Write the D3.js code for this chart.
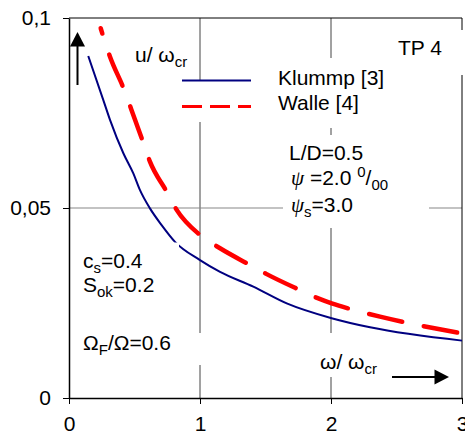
<!DOCTYPE html>
<html>
<head>
<meta charset="utf-8">
<script src="https://cdn.jsdelivr.net/npm/d3@7"></script>
<style>
  body { margin: 0; background: #fff; }
  svg { display: block; font-family: "Liberation Sans", Arial, sans-serif; }
  .lbl { font-size: 21px; fill: #000; }
</style>
</head>
<body>
<svg width="465" height="435"></svg>
<script>
// omega/omega_cr values and u/omega_cr
var klummpX = [0.147, 0.262, 0.313, 0.415, 0.491, 0.542, 0.618, 0.707, 0.809, 1.0, 1.153, 1.407, 1.662, 2.005, 2.298, 3.0];
var klummpY = [0.090, 0.0784, 0.0732, 0.0644, 0.0591, 0.0547, 0.0499, 0.0455, 0.0411, 0.0363, 0.0332, 0.0293, 0.0249, 0.0210, 0.0186, 0.0151];
var walleX = [0.242, 0.313, 0.42, 0.504, 0.565, 0.618, 0.746, 0.822, 1.0, 1.153, 1.382, 1.509, 1.763, 1.903, 2.005, 2.17, 2.374, 3.0];
var walleY = [0.0973, 0.0898, 0.0812, 0.0732, 0.0674, 0.0622, 0.0543, 0.0495, 0.0429, 0.0394, 0.0350, 0.0326, 0.0284, 0.0262, 0.0249, 0.0232, 0.0214, 0.0170];
var xTicks = [0, 1, 2, 3];
var yTicks = [0, 0.05, 0.1];
var yTickLabels = ["0", "0,05", "0,1"];
var seriesNames = ["Klummp [3]", "Walle [4]"];

var svg = d3.select("svg");
var x = d3.scaleLinear().domain([0, 3]).range([69, 462]);
var y = d3.scaleLinear().domain([0, 0.1]).range([398, 18]);

// grid
svg.append("g").selectAll("line").data([1, 2]).enter().append("line")
  .attr("x1", function(d) { return x(d); }).attr("x2", function(d) { return x(d); })
  .attr("y1", y(0.1)).attr("y2", y(0))
  .attr("stroke", "#444").attr("stroke-width", 1);
svg.append("line")
  .attr("x1", x(0)).attr("x2", x(3)).attr("y1", y(0.05)).attr("y2", y(0.05))
  .attr("stroke", "#888").attr("stroke-width", 1.2);
// frame top / right
svg.append("line").attr("x1", x(0)).attr("x2", x(3)).attr("y1", y(0.1)).attr("y2", y(0.1))
  .attr("stroke", "#000").attr("stroke-width", 1);
svg.append("line").attr("x1", x(3)).attr("x2", x(3)).attr("y1", y(0.1)).attr("y2", y(0))
  .attr("stroke", "#000").attr("stroke-width", 1);

// white boxes behind the texts
var boxes = [[385, 30, 80, 45], [265, 58, 190, 70], [175, 80, 83, 42], [283, 135, 146, 93],
             [78, 333, 160, 32], [310, 333, 130, 44]];
svg.append("g").selectAll("rect").data(boxes).enter().append("rect")
  .attr("x", function(d) { return d[0]; }).attr("y", function(d) { return d[1]; })
  .attr("width", function(d) { return d[2]; }).attr("height", function(d) { return d[3]; })
  .attr("fill", "#fff");

// axes
var yAxis = svg.append("g").attr("transform", "translate(" + x(0) + ",0)")
  .call(d3.axisLeft(y).tickValues(yTicks).tickSize(6).tickSizeOuter(0).tickPadding(12)
    .tickFormat(function(d, i) { return yTickLabels[i]; }));
var xAxis = svg.append("g").attr("transform", "translate(0," + y(0) + ")")
  .call(d3.axisBottom(x).tickValues(xTicks).tickSize(6).tickSizeOuter(0).tickPadding(12)
    .tickFormat(d3.format("d")));
[yAxis, xAxis].forEach(function(a) {
  a.selectAll("text").attr("font-size", 21).attr("font-family", "Liberation Sans, Arial, sans-serif").attr("fill", "#000");
  a.select(".domain").attr("stroke-width", 1.5);
});

// curves
var line = d3.line()
  .x(function(d) { return x(d[0]); })
  .y(function(d) { return y(d[1]); })
  .curve(d3.curveMonotoneX);
svg.append("path").datum(d3.zip(klummpX, klummpY))
  .attr("d", line).attr("fill", "none").attr("stroke", "#000080").attr("stroke-width", 2);
svg.append("path").datum(d3.zip(walleX, walleY))
  .attr("d", line).attr("fill", "none").attr("stroke", "#ff0000").attr("stroke-width", 4.5)
  .attr("stroke-linecap", "round")
  .attr("stroke-dasharray", "34,22").attr("stroke-dashoffset", 28.5);

// corner of the c_s text box cuts the blue line
svg.append("rect").attr("x", 78).attr("y", 242.5).attr("width", 101).attr("height", 55).attr("fill", "#fff");

// legend
svg.append("line").attr("x1", 182).attr("x2", 251).attr("y1", 80.5).attr("y2", 80.5)
  .attr("stroke", "#000080").attr("stroke-width", 2);
svg.append("line").attr("x1", 182).attr("x2", 251).attr("y1", 106.5).attr("y2", 106.5)
  .attr("stroke", "#ff0000").attr("stroke-width", 3).attr("stroke-dasharray", "20,8");
svg.append("text").attr("class", "lbl").attr("x", 278).attr("y", 85).text(seriesNames[0]);
svg.append("text").attr("class", "lbl").attr("x", 278).attr("y", 110).text(seriesNames[1]);

function sub(t, s, dy) {
  t.append("tspan").attr("font-size", 15).attr("dy", dy).text(s);
}

// annotations
svg.append("text").attr("class", "lbl").attr("x", 398).attr("y", 55).text("TP 4");

var t = svg.append("text").attr("class", "lbl").attr("x", 135).attr("y", 62);
t.append("tspan").text("u/ ω");
sub(t, "cr", 5);

svg.append("text").attr("class", "lbl").attr("x", 289).attr("y", 160).text("L/D=0.5");
t = svg.append("text").attr("class", "lbl").attr("x", 291).attr("y", 185);
t.append("tspan").attr("font-style", "italic").attr("font-family", "Liberation Serif, serif").text("ψ");
t.append("tspan").text(" =2.0 ");
t.append("tspan").attr("font-size", 15).attr("dy", -8).text("0");
t.append("tspan").attr("dy", 8).text("/");
t.append("tspan").attr("font-size", 15).attr("dy", 5).text("00");
t = svg.append("text").attr("class", "lbl").attr("x", 291).attr("y", 212);
t.append("tspan").attr("font-style", "italic").attr("font-family", "Liberation Serif, serif").text("ψ");
sub(t, "s", 5);
t.append("tspan").attr("dy", -5).text("=3.0");

t = svg.append("text").attr("class", "lbl").attr("x", 83).attr("y", 268);
t.append("tspan").text("c");
sub(t, "s", 5);
t.append("tspan").attr("dy", -5).text("=0.4");
t = svg.append("text").attr("class", "lbl").attr("x", 83).attr("y", 292);
t.append("tspan").text("S");
sub(t, "ok", 5);
t.append("tspan").attr("dy", -5).text("=0.2");
t = svg.append("text").attr("class", "lbl").attr("x", 83).attr("y", 350);
t.append("tspan").text("Ω");
sub(t, "F", 5);
t.append("tspan").attr("dy", -5).text("/Ω=0.6");

t = svg.append("text").attr("class", "lbl").attr("x", 320).attr("y", 369);
t.append("tspan").text("ω/ ω");
sub(t, "cr", 5);

// arrows
svg.append("line").attr("x1", 77.5).attr("x2", 77.5).attr("y1", 85).attr("y2", 45)
  .attr("stroke", "#000").attr("stroke-width", 2);
svg.append("path").attr("d", "M77.5,32L70,46.5L85,46.5Z").attr("fill", "#000");
svg.append("line").attr("x1", 392).attr("x2", 436).attr("y1", 377).attr("y2", 377)
  .attr("stroke", "#000").attr("stroke-width", 2);
svg.append("path").attr("d", "M449,377L434.5,369.5L434.5,384.5Z").attr("fill", "#000");
</script>
</body>
</html>
